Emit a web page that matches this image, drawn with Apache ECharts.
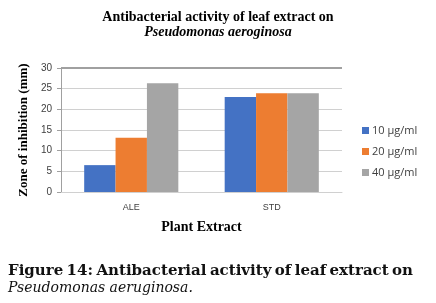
<!DOCTYPE html>
<html>
<head>
<meta charset="utf-8">
<script src="https://cdn.jsdelivr.net/npm/echarts@6/dist/echarts.min.js"></script>
<style>
  html, body { margin: 0; padding: 0; background: #fff; }
  #chart { width: 436px; height: 303px; }
</style>
</head>
<body>
<div id="chart"></div>
<script>
// data
var categories = ['ALE', 'STD'];
var seriesNames = ['10 μg/ml', '20 μg/ml', '40 μg/ml'];
var conc10 = [6.5, 23];
var conc20 = [13.1, 23.9];
var conc40 = [26.3, 23.9];
var yTicks = [0, 5, 10, 15, 20, 25, 30];

var colors = ['#4472C4', '#ED7D31', '#A5A5A5'];
var yMax = yTicks[yTicks.length - 1];

var myChart = echarts.init(document.getElementById('chart'));

// justify the caption's first line over the page width
var capFont = 'bold 15px "DejaVu Serif"';
var capWords = 'Figure 14: Antibacterial activity of leaf extract on'.split(' ');
var ctx = document.createElement('canvas').getContext('2d');
ctx.font = capFont;
var capLeft = 8, capRight = 413;
var wordW = capWords.map(function (w) { return ctx.measureText(w).width; });
var totalW = wordW.reduce(function (a, b) { return a + b; }, 0);
var gap = (capRight - capLeft - totalW) / (capWords.length - 1);
var capGraphics = [];
var cx = capLeft;
capWords.forEach(function (w, i) {
    capGraphics.push({
        type: 'text', left: cx, top: 264,
        style: { text: w, font: capFont, fill: '#111' }
    });
    cx += wordW[i] + gap;
});
capGraphics.push({
    type: 'text', left: 8, top: 281,
    style: { text: 'Pseudomonas aeruginosa.', font: 'italic 14px "DejaVu Serif"', fill: '#111' }
});

var barSeries = [conc10, conc20, conc40].map(function (vals, i) {
    var s = {
        name: seriesNames[i],
        type: 'bar',
        data: vals,
        barGap: '0%',
        barCategoryGap: '33%',
        itemStyle: { color: colors[i] }
    };
    if (i === 0) {
        s.markLine = {
            silent: true,
            symbol: 'none',
            label: { show: false },
            lineStyle: { color: '#a0a0a0', width: 2, type: 'solid' },
            data: [{ yAxis: yMax }]
        };
    }
    return s;
});

var option = {
    animation: false,
    backgroundColor: '#fff',
    title: [{
        text: 'Antibacterial activity of leaf extract on',
        left: 213, top: 5, textAlign: 'center',
        textStyle: { fontFamily: 'Liberation Serif', fontWeight: 'bold', fontSize: 14, color: '#000' }
    }, {
        text: 'Pseudomonas aeroginosa',
        left: 213, top: 20, textAlign: 'center',
        textStyle: { fontFamily: 'Liberation Serif', fontWeight: 'bold', fontStyle: 'italic', fontSize: 14, color: '#000' }
    }],
    legend: {
        orient: 'vertical',
        left: 357, top: 120,
        itemWidth: 7, itemHeight: 7, itemGap: 10,
        icon: 'rect',
        textStyle: { fontFamily: 'Open Sans', fontSize: 11, color: '#404040', padding: [0, 0, 0, -2] },
        data: seriesNames
    },
    grid: { left: 61, right: 94, top: 68, bottom: 111 },
    xAxis: {
        type: 'category',
        data: categories,
        name: 'Plant Extract',
        nameLocation: 'middle',
        nameGap: 28,
        nameTextStyle: { fontFamily: 'Liberation Serif', fontWeight: 'bold', fontSize: 14, color: '#000' },
        axisLine: { lineStyle: { color: '#d0d0d0' } },
        axisTick: { show: false },
        axisLabel: { fontFamily: 'Liberation Sans', fontSize: 9, color: '#404040', margin: 11 }
    },
    yAxis: {
        type: 'value',
        min: 0, max: yMax, interval: 5,
        name: 'Zone of inhibition (mm)',
        nameLocation: 'middle',
        nameGap: 30,
        nameTextStyle: { fontFamily: 'Liberation Serif', fontWeight: 'bold', fontSize: 13, color: '#000' },
        axisLine: { show: true, lineStyle: { color: '#a0a0a0' } },
        axisTick: { show: true, length: 4, lineStyle: { color: '#a0a0a0' } },
        axisLabel: { fontFamily: 'Liberation Sans', fontSize: 10, color: '#404040', margin: 9 },
        splitLine: { lineStyle: { color: '#d0d0d0' } }
    },
    series: barSeries,
    graphic: capGraphics
};

myChart.setOption(option);
</script>
</body>
</html>
